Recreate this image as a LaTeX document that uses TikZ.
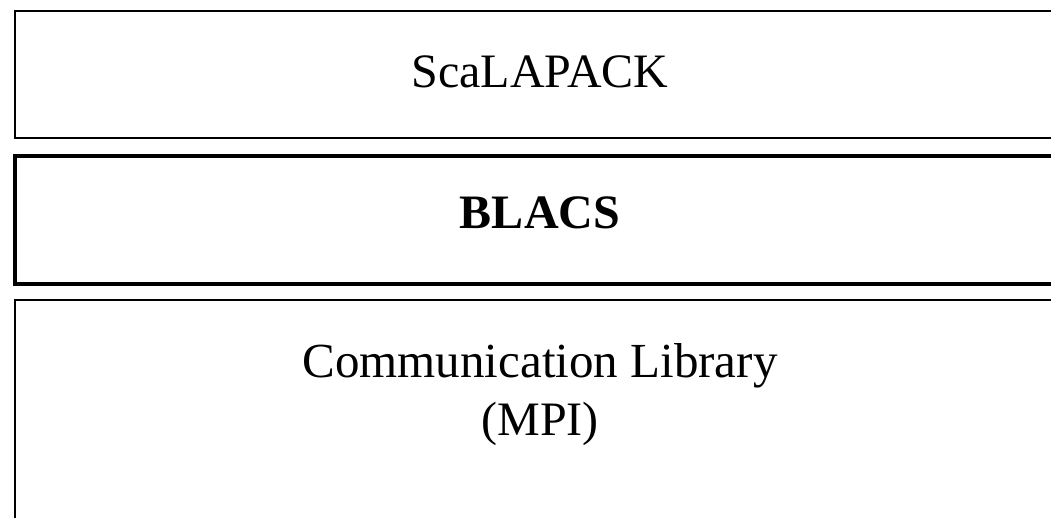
\documentclass[tikz,border=0pt]{standalone}
\usepackage{fontspec}
\setmainfont{Liberation Serif}
\begin{document}
\begin{tikzpicture}[x=1pt,y=-1pt,
  layer/.style={draw=black, fill=none, rectangle, inner sep=0pt},
  label/.style={anchor=base, inner sep=0pt, font=\fontsize{48}{56}\selectfont}]
\useasboundingbox (0,0) rectangle (1051,517);
\clip (0,0) rectangle (1051,517);
% layer boxes (they run past the right and lower edges)
\node[layer, line width=2.2pt, minimum width=1060pt, minimum height=127pt,
      anchor=north west] (scalapack) at (14,10) {};
\node[layer, line width=4pt, minimum width=1060pt, minimum height=128pt,
      anchor=north west] (blacs) at (13,154) {};
\node[layer, line width=2.2pt, minimum width=1060pt, minimum height=260pt,
      anchor=north west] (comm) at (14,298.5) {};
% labels
\node[label] (t1) at (540,87) {ScaLAPACK};
\node[label] (t2) at (540,228) {\bfseries BLACS};
\node[label, font=\fontsize{49}{56}\selectfont] (t3) at (540,377) {Communication Library};
\node[label] (t4) at (540,435) {(MPI)};
\end{tikzpicture}
\end{document}
